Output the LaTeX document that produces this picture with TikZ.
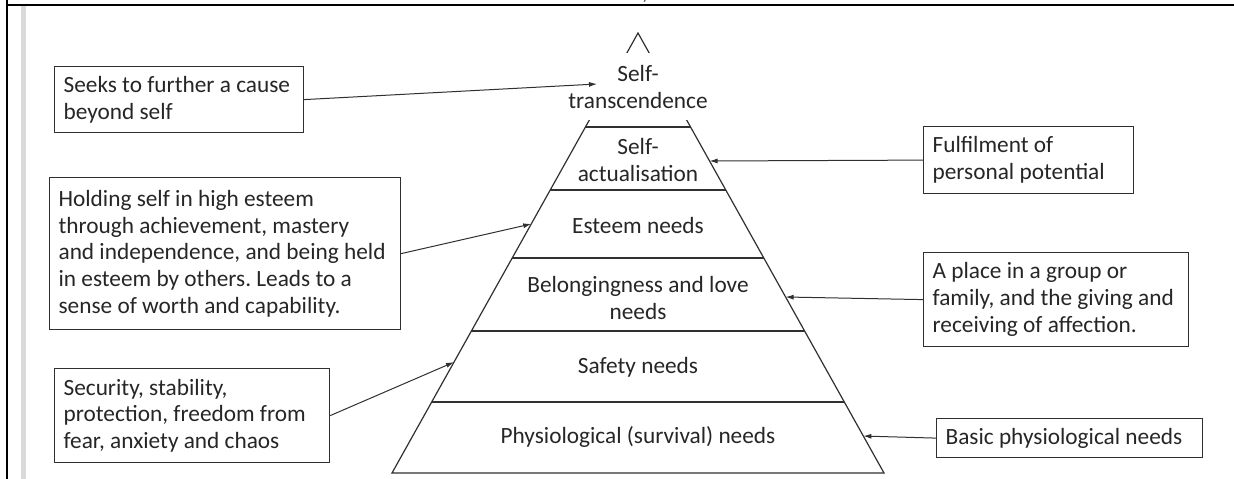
\documentclass[tikz,border=0pt]{standalone}
\usepackage{fontspec}
\setmainfont{Carlito}
\usetikzlibrary{calc,arrows.meta}

\definecolor{txt}{HTML}{262626}
\definecolor{edge}{HTML}{303030}
\definecolor{barc}{HTML}{DADADA}

\begin{document}
\begin{tikzpicture}[x=1pt,y=-1pt,
  every node/.style={font=\fontsize{23.3}{26.8}\selectfont\frenchspacing, text=txt},
  note/.style={draw=edge, line width=1.2pt, anchor=north west, align=flush left,
               inner xsep=9pt, inner ysep=0pt},
  level/.style={align=center, inner sep=0pt},
  pyr/.style={draw=edge, line width=1.2pt},
  conn/.style={draw=edge, line width=1pt, -{Latex[length=8pt,width=5pt]}},
  frame/.style={draw=black, line width=2.2pt}]
\useasboundingbox (0,0) rectangle (1234,479);

% page frame and margin bar
\fill[barc] (21,6) rectangle (25.5,479);
\draw[frame] (6.7,0) -- (6.7,479);
\draw[frame] (5.6,5.3) -- (1234,5.3);
\node[anchor=base, inner sep=0pt] (frag) at (645,-1) {,};

% pyramid outline
\coordinate (apex) at (638,33);
\coordinate (bl) at (392,473);
\coordinate (br) at (884,473);
\draw[pyr] (apex) -- (bl) -- (br) -- cycle;

% level dividers
\foreach \t in {0.2136,0.3568,0.5114,0.6773,0.8386}
  \draw[pyr] ($(apex)!\t!(bl)$) -- ($(apex)!\t!(br)$);

% level labels
\node[fill=white, align=center, inner sep=0pt, anchor=north,
      minimum width=150pt, minimum height=67pt] (trans) at (638,53)
      {Self-\\transcendence};
\node[level] (act) at (638,160) {Self-\\actualisation};
\node[level] (est) at (638,225) {Esteem needs};
\node[level] (bel) at (638,298) {Belongingness and love\\needs};
\node[level] (saf) at (638,367) {Safety needs};
\node[level] (phy) at (638,437) {Physiological (survival) needs};

% side notes
\node[note, text width=231pt, minimum height=66pt] (seeks) at (54,66)
  {Seeks to further a cause\\beyond self};
\node[note, text width=333pt, minimum height=152pt] (hold) at (49,177)
  {Holding self in high esteem\\through achievement, mastery\\and independence, and being held\\in esteem by others. Leads to a\\sense of worth and capability.};
\node[note, text width=257pt, minimum height=94pt] (secu) at (54,368)
  {Security, stability,\\protection, freedom from\\fear, anxiety and chaos};
\node[note, text width=192pt, minimum height=67pt] (fulf) at (923,126)
  {Fulfilment of\\personal potential};
\node[note, text width=247pt, minimum height=94pt] (place) at (923,252)
  {A place in a group or\\family, and the giving and\\receiving of affection.};
\node[note, text width=248pt, minimum height=39pt] (basic) at (936,418)
  {Basic physiological needs};

% connector targets on the pyramid
\coordinate (tTrans) at (597,84);
\coordinate (tFulf) at ($(apex)!0.2909!(br)$);
\coordinate (tHold) at ($(apex)!0.4340!(bl)$);
\coordinate (tPlace) at ($(apex)!0.6000!(br)$);
\coordinate (tSecu) at ($(apex)!0.7480!(bl)$);
\coordinate (tBasic) at ($(apex)!0.9160!(br)$);

\draw[conn] (seeks.east) -- (tTrans);
\draw[conn] (fulf.west) -- (tFulf);
\draw[conn] (hold.east) -- (tHold);
\draw[conn] (place.west) -- (tPlace);
\draw[conn] (secu.east) -- (tSecu);
\draw[conn] (basic.west) -- (tBasic);
\end{tikzpicture}
\end{document}
